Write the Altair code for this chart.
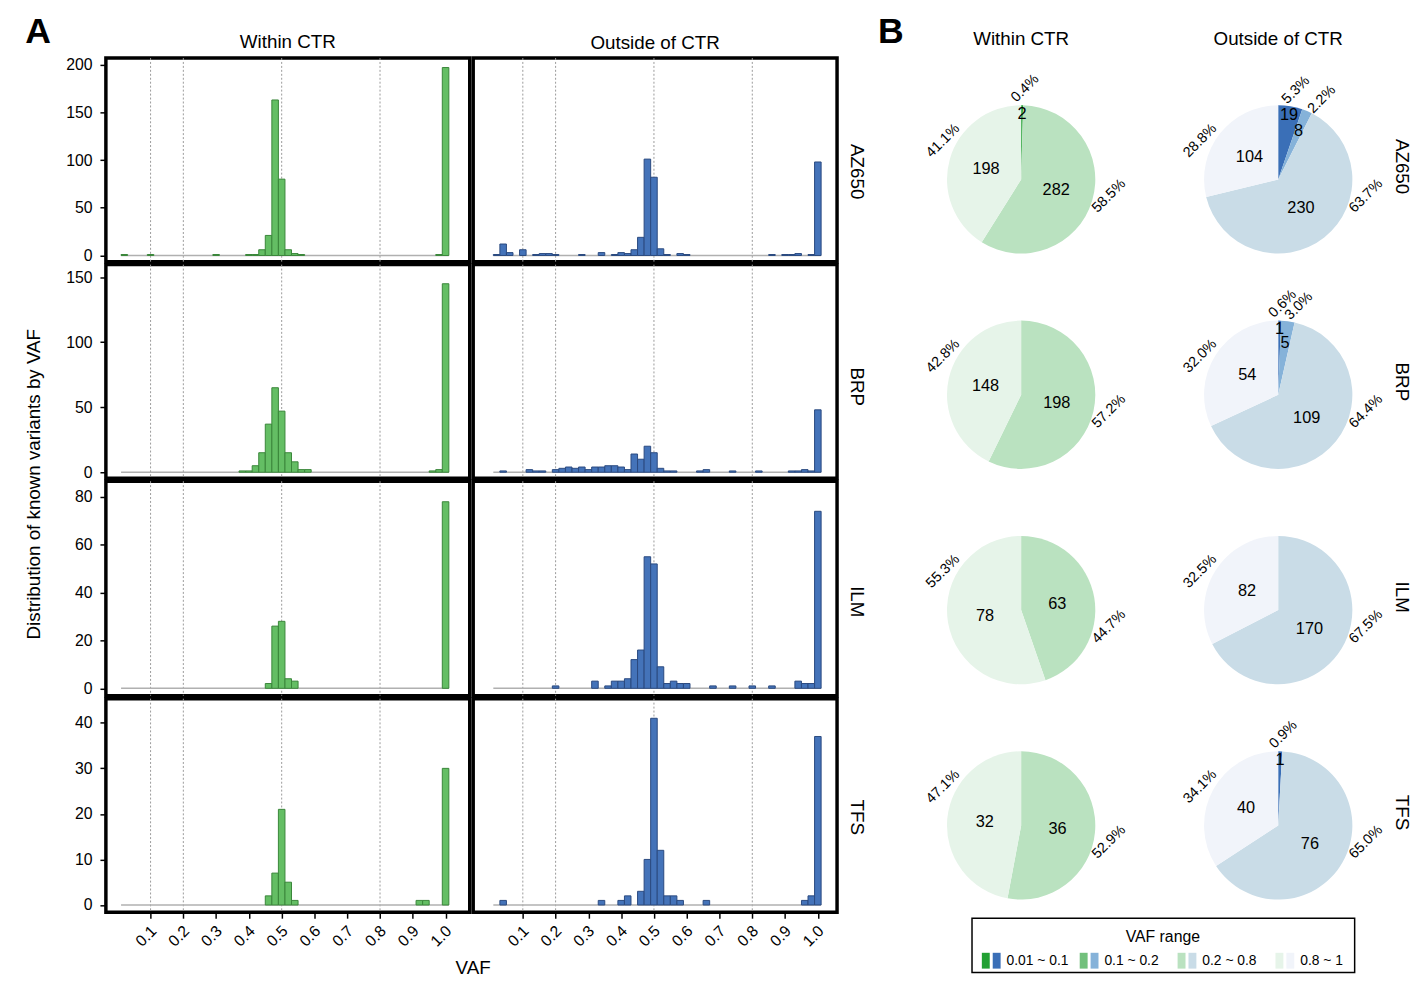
import altair as alt
import pandas as pd

FONT = "Liberation Sans"

platforms = ["AZ650", "BRP", "ILM", "TFS"]
column_titles = ["Within CTR", "Outside of CTR"]
y_title = "Distribution of known variants by VAF"

# 50 histogram bins of width 0.02 (0.01 - 1.01)
bin_lo = [round(0.01 + 0.02 * k, 2) for k in range(50)]
bin_hi = [round(0.03 + 0.02 * k, 2) for k in range(50)]

within_AZ650 = [1,0,0,0,1,0,0,0,0,0, 0,0,0,0,1,0,0,0,0,1, 1,6,21,163,80,6,2,1,0,0, 0,0,0,0,0,0,0,0,0,0, 0,0,0,0,0,0,0,0,1,197]
outside_AZ650 = [1,12,3,0,6,0,1,2,2,1, 0,0,0,1,0,0,3,0,1,3, 2,6,19,101,82,7,1,0,2,1, 0,0,0,0,0,0,0,0,0,0, 0,0,1,0,1,1,2,0,1,98]
within_BRP = [0,0,0,0,0,0,0,0,0,0, 0,0,0,0,0,0,0,0,1,1, 5,15,37,65,47,15,8,2,2,0, 0,0,0,0,0,0,0,0,0,0, 0,0,0,0,0,0,0,1,2,145]
outside_BRP = [0,1,0,0,0,2,1,1,0,2, 3,4,3,4,2,4,4,5,5,4, 2,14,10,20,15,3,1,1,0,0, 0,1,2,0,0,0,1,0,0,0, 1,0,0,0,0,1,1,2,1,48]
within_ILM = [0,0,0,0,0,0,0,0,0,0, 0,0,0,0,0,0,0,0,0,0, 0,0,2,26,28,4,3,0,0,0, 0,0,0,0,0,0,0,0,0,0, 0,0,0,0,0,0,0,0,0,78]
outside_ILM = [0,0,0,0,0,0,0,0,0,1, 0,0,0,0,0,3,0,1,3,3, 4,12,16,55,52,9,2,3,2,2, 0,0,0,1,0,0,1,0,0,1, 0,0,1,0,0,0,3,2,2,74]
within_TFS = [0,0,0,0,0,0,0,0,0,0, 0,0,0,0,0,0,0,0,0,0, 0,0,2,7,21,5,1,0,0,0, 0,0,0,0,0,0,0,0,0,0, 0,0,0,0,0,1,1,0,0,30]
outside_TFS = [0,1,0,0,0,0,0,0,0,0, 0,0,0,0,0,0,1,0,0,1, 2,0,3,10,41,12,2,2,1,0, 0,0,1,0,0,0,0,0,0,0, 0,0,0,0,0,0,0,1,2,37]

hist_within = {"AZ650": within_AZ650, "BRP": within_BRP, "ILM": within_ILM, "TFS": within_TFS}
hist_outside = {"AZ650": outside_AZ650, "BRP": outside_BRP, "ILM": outside_ILM, "TFS": outside_TFS}

x_ticks = [0.1, 0.2, 0.3, 0.4, 0.5, 0.6, 0.7, 0.8, 0.9, 1.0]
grid_vaf = [0.1, 0.2, 0.5, 0.8]
y_ticks = [[0, 50, 100, 150, 200], [0, 50, 100, 150], [0, 20, 40, 60, 80], [0, 10, 20, 30, 40]]

# pie data: counts and printed percentages per VAF range
vaf_ranges = ["0.01 ~ 0.1", "0.1 ~ 0.2", "0.2 ~ 0.8", "0.8 ~ 1"]
pie_within = {"AZ650": [2, 0, 282, 198], "BRP": [0, 0, 198, 148], "ILM": [0, 0, 63, 78], "TFS": [0, 0, 36, 32]}
pie_outside = {"AZ650": [19, 8, 230, 104], "BRP": [1, 5, 109, 54], "ILM": [0, 0, 170, 82], "TFS": [1, 0, 76, 40]}
pct_within = {"AZ650": [0.4, 0, 58.5, 41.1], "BRP": [0, 0, 57.2, 42.8], "ILM": [0, 0, 44.7, 55.3], "TFS": [0, 0, 52.9, 47.1]}
pct_outside = {"AZ650": [5.3, 2.2, 63.7, 28.8], "BRP": [0.6, 3.0, 64.4, 32.0], "ILM": [0, 0, 67.5, 32.5], "TFS": [0.9, 0, 65.0, 34.1]}

green = ["#22a033", "#72c07c", "#bae2c0", "#e6f4e9"]
blue = ["#3a6fb7", "#85b2d9", "#c9dce7", "#f1f4fa"]

# ---------------- layout / style settings ----------------
W = 368
H = [206, 216, 217, 216]
x_domains = [[-0.0363, 1.0737], [-0.0514, 1.0586]]
y_domains = [[-6.5, 207], [-4.6, 159.7], [-3.1, 86.6], [-1.6, 45.3]]
row_label_y = [114.5, 123, 121.5, 119.5]
hist_fill = ["#64be64", "#4473b9"]
hist_edge = ["#3a863a", "#2a4a80"]


def hist_panel(counts, ci, ri):
    df = pd.DataFrame({"lo": bin_lo, "hi": bin_hi, "n": counts})
    xs = alt.Scale(domain=x_domains[ci], nice=False, zero=False)
    ys = alt.Scale(domain=y_domains[ri], nice=False, zero=False)
    if ri == 3:
        xaxis = alt.Axis(values=x_ticks, format=".1f", title=None, grid=False, domain=False,
                         tickSize=6, tickWidth=1.5, tickColor="black", labelAngle=315,
                         labelAlign="right", labelBaseline="middle", labelFontSize=16,
                         labelColor="black", labelPadding=10, labelOffset=3)
    else:
        xaxis = None
    if ci == 0:
        yaxis = alt.Axis(values=y_ticks[ri], title=None, grid=False, domain=False, tickSize=6,
                         tickWidth=1.5, tickColor="black", labelFontSize=16, labelColor="black",
                         labelPadding=8)
    else:
        yaxis = alt.Axis(orient="right", title=platforms[ri], grid=False, domain=False, ticks=False,
                         labels=False, titleAngle=90, titleFontSize=19, titleFontWeight="normal",
                         titleColor="black", titlePadding=10, titleY=row_label_y[ri])
    grid = alt.Chart(pd.DataFrame({"v": grid_vaf})).mark_rule(
        color="#9a9a9a", strokeDash=[2, 2], strokeWidth=1
    ).encode(x=alt.X("v:Q", scale=xs, axis=xaxis))
    baseline = alt.Chart(pd.DataFrame({"a": [bin_lo[0]], "b": [bin_hi[-1]]})).mark_rule(
        color="#b0b0b0", strokeWidth=1.5
    ).encode(x=alt.X("a:Q", scale=xs, axis=xaxis), x2="b:Q",
             y=alt.YDatum(0, scale=ys, axis=yaxis))
    bars = alt.Chart(df).transform_filter("datum.n > 0").mark_bar(
        fill=hist_fill[ci], stroke=hist_edge[ci], strokeWidth=1, opacity=1
    ).encode(x=alt.X("lo:Q", scale=xs, axis=xaxis), x2="hi:Q",
             y=alt.Y("n:Q", scale=ys, axis=yaxis), y2=alt.datum(0))
    ch = alt.layer(grid, baseline, bars).properties(
        width=W, height=H[ri], view=alt.ViewBackground(stroke="black", strokeWidth=3.5))
    if ri == 0:
        ch = ch.properties(title=alt.TitleParams(column_titles[ci], fontSize=19, fontWeight="normal",
                                                 offset=5, color="black"))
    return ch


colL = alt.vconcat(*[hist_panel(hist_within[p], 0, ri) for ri, p in enumerate(platforms)],
                   spacing=3, bounds="flush")
colR = alt.vconcat(*[hist_panel(hist_outside[p], 1, ri) for ri, p in enumerate(platforms)],
                   spacing=3, bounds="flush")

gridA = alt.hconcat(colL, colR, spacing=-0.5).properties(
    title=alt.TitleParams(y_title, orient="left", anchor="middle", fontSize=19,
                          fontWeight="normal", offset=20, dx=7, color="black"))
wrapA = alt.vconcat(gridA).properties(
    title=alt.TitleParams("VAF", orient="bottom", anchor="middle", fontSize=19,
                          fontWeight="normal", offset=8, dx=27, color="black"))
panelA = alt.vconcat(wrapA).properties(
    title=alt.TitleParams("A", anchor="start", fontSize=36, fontWeight="bold", offset=-20,
                          color="black"))

# ---------------- panel B: pies ----------------
WB, HB = 532, 926
pie_rows = []
for ri, p in enumerate(platforms):
    for ci, (cnts, pcts, pref) in enumerate([(pie_within[p], pct_within[p], "W"),
                                              (pie_outside[p], pct_outside[p], "O")]):
        for k in range(4):
            if cnts[k] > 0:
                pie_rows.append(dict(plat=p, ci=ci, ri=ri, rng=k, n=cnts[k], pct=pcts[k],
                                     key=f"{pref}{k}"))
pie_df = pd.DataFrame(pie_rows)

keys = [f"W{k}" for k in range(4)] + [f"O{k}" for k in range(4)]
cs = alt.Scale(domain=keys, range=green + blue)
xsB = alt.Scale(domain=[-0.5796, 1.4666], nice=False, zero=False)
ysB = alt.Scale(domain=[-0.5638, 3.6878], nice=False, zero=False, reverse=True)
th = alt.Scale(domain=[0, 1], range=[0, 6.283185307179586])

pbase = alt.Chart(pie_df).transform_joinaggregate(
    total="sum(n)", groupby=["plat", "ci"]
).transform_window(
    cum="sum(n)", sort=[alt.SortField("rng")], groupby=["plat", "ci"]
).transform_calculate(
    f0="(datum.cum - datum.n) / datum.total",
    f1="datum.cum / datum.total",
    fm="(datum.cum - datum.n / 2) / datum.total",
    frac="datum.n / datum.total",
)

px = alt.X("ci:Q", scale=xsB, axis=None)
py = alt.Y("ri:Q", scale=ysB, axis=None)

arcs = pbase.mark_arc(outerRadius=75).encode(
    x=px, y=py, theta=alt.Theta("f0:Q", scale=th), theta2="f1:Q",
    color=alt.Color("key:N", scale=cs, legend=None))

count_lbl = pbase.transform_calculate(
    rc="datum.frac < 0.1 ? (datum.rng == 0 ? 66 : 53) : 37"
).mark_text(fontSize=16.5, color="black").encode(
    x=px, y=py, theta=alt.Theta("fm:Q", scale=th), radius=alt.Radius("rc:Q", scale=None),
    text="n:Q")

# percentage labels: large ranges sit at a fixed side of the pie, small ones near the top
pct_lbl = pbase.transform_calculate(
    fl="datum.rng == 2 ? 0.280 : (datum.rng == 3 ? 0.823 : datum.fm + (datum.rng == 0 ? 0.005 : 0.016))",
    rl="datum.rng == 3 ? 88 : (datum.rng == 2 ? 90.5 : 92)",
    lab="format(datum.pct, '.1f') + '%'"
).mark_text(fontSize=14.5, color="black", angle=315).encode(
    x=px, y=py, theta=alt.Theta("fl:Q", scale=th), radius=alt.Radius("rl:Q", scale=None),
    text="lab:N")

col_df = pd.DataFrame({"ci": [0, 1], "name": column_titles})
col_lbl = alt.Chart(col_df).mark_text(fontSize=19, color="black").encode(
    x=px, y=alt.value(-19.5), text="name:N")

row_df = pd.DataFrame({"ri": list(range(4)), "name": platforms})
row_lbl = alt.Chart(row_df).mark_text(fontSize=19, color="black", angle=90, dx=-13).encode(
    x=alt.value(536), y=py, text="name:N")

letterB = alt.Chart(pd.DataFrame({"t": ["B"]})).mark_text(
    fontSize=36, fontWeight="bold", color="black", align="left", baseline="top"
).encode(x=alt.value(6), y=alt.value(-43), text="t:N")

leg_df = pd.DataFrame({"li": list(range(4)), "label": vaf_ranges,
                       "gk": [f"W{k}" for k in range(4)], "bk": [f"O{k}" for k in range(4)]})
lx = alt.X("li:Q", scale=alt.Scale(domain=[-1.161, 4.213], nice=False, zero=False), axis=None)
leg_y = 913
leg_g = alt.Chart(leg_df).mark_tick(thickness=8, size=16, orient="vertical", opacity=1).encode(
    x=lx, y=alt.value(leg_y), color=alt.Color("gk:N", scale=cs, legend=None))
leg_b = alt.Chart(leg_df).mark_tick(thickness=8, size=16, orient="vertical", opacity=1,
                                    xOffset=11).encode(
    x=lx, y=alt.value(leg_y), color=alt.Color("bk:N", scale=cs, legend=None))
leg_t = alt.Chart(leg_df).mark_text(fontSize=14, color="black", align="left", dx=21).encode(
    x=lx, y=alt.value(leg_y), text="label:N")
leg_title = alt.Chart(pd.DataFrame({"t": ["VAF range"]})).mark_text(
    fontSize=16, color="black").encode(x=alt.value(294), y=alt.value(889), text="t:N")
leg_box = alt.Chart(pd.DataFrame({"t": [0]})).mark_rect(
    fillOpacity=0, stroke="black", strokeWidth=1.5).encode(
    x=alt.value(101), x2=alt.value(488), y=alt.value(870), y2=alt.value(925))

panelB = alt.layer(arcs, count_lbl, pct_lbl, col_lbl, row_lbl, letterB,
                   leg_box, leg_g, leg_b, leg_t, leg_title).properties(
    width=WB, height=HB).resolve_scale(x="independent")

chart = alt.hconcat(panelA, panelB, spacing=3).properties(
    padding={"left": 17, "top": 0, "right": 0, "bottom": 0}
).configure(font=FONT).configure_view(stroke="transparent").configure_title(
    font=FONT, color="black")

chart.save("out.html", embed_options={"renderer": "svg", "actions": False})
